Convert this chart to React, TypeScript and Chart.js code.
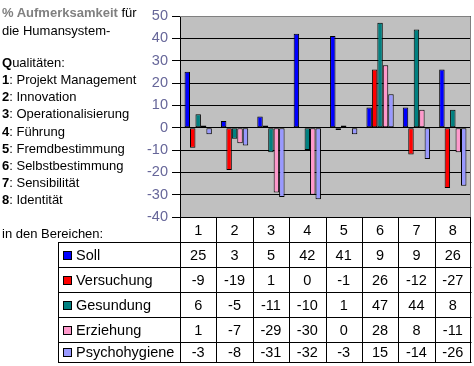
import React, { useEffect, useRef } from "react";
import { Chart, registerables } from "chart.js";

Chart.register(...registerables);

// ---- data ----
const categories = ["1", "2", "3", "4", "5", "6", "7", "8"];
const seriesNames = ["Soll", "Versuchung", "Gesundung", "Erziehung", "Psychohygiene"];
const soll = [25, 3, 5, 42, 41, 9, 9, 26];
const versuchung = [-9, -19, 1, 0, -1, 26, -12, -27];
const gesundung = [6, -5, -11, -10, 1, 47, 44, 8];
const erziehung = [1, -7, -29, -30, 0, 28, 8, -11];
const psychohygiene = [-3, -8, -31, -32, -3, 15, -14, -26];
const seriesColors = ["#0000FF", "#FF0000", "#008080", "#FF99CC", "#9999FF"];
const yMin = -40;
const yMax = 50;
const yStep = 10;

const qualities = [
  "Projekt Management",
  "Innovation",
  "Operationalisierung",
  "Führung",
  "Fremdbestimmung",
  "Selbstbestimmung",
  "Sensibilität",
  "Identität",
];

const allSeries = [soll, versuchung, gesundung, erziehung, psychohygiene];

const FONT = "'Liberation Sans', Arial, sans-serif";

// row boundaries of the data table (layout)
const tableRowLines = [242, 267, 292, 317, 342, 362];
const tableLeft = 58;

const bgPlugin = {
  id: "plotBg",
  beforeDraw(chart: any) {
    const { ctx, chartArea: a } = chart;
    ctx.save();
    ctx.fillStyle = "#FFFFFF";
    ctx.fillRect(0, 0, chart.width, chart.height);
    ctx.fillStyle = "#C0C0C0";
    ctx.fillRect(a.left, a.top, a.right - a.left, a.bottom - a.top);
    ctx.restore();
  },
};

const tablePlugin = {
  id: "dataTable",
  afterDraw(chart: any) {
    const { ctx, chartArea: a } = chart;
    const xs = chart.scales.x;
    const n = categories.length;
    const catW = (a.right - a.left) / n;
    const px = (v: number) => Math.round(v) + 0.5;
    ctx.save();
    // gray plot border top/right
    ctx.strokeStyle = "#808080";
    ctx.lineWidth = 1;
    ctx.beginPath();
    ctx.moveTo(a.left, px(a.top));
    ctx.lineTo(px(a.right - 1), px(a.top));
    ctx.lineTo(px(a.right - 1), a.bottom);
    ctx.stroke();

    ctx.strokeStyle = "#000000";
    ctx.beginPath();
    // header top line
    ctx.moveTo(a.left, px(a.bottom));
    ctx.lineTo(a.right, px(a.bottom));
    // row lines
    for (const y of tableRowLines) {
      ctx.moveTo(tableLeft, px(y));
      ctx.lineTo(a.right + 0.5, px(y));
    }
    // left table border
    ctx.moveTo(px(tableLeft), tableRowLines[0]);
    ctx.lineTo(px(tableLeft), px(tableRowLines[tableRowLines.length - 1]));
    // column lines
    for (let i = 0; i <= n; i++) {
      const x = px(a.left + i * catW - (i === n ? 1 : 0));
      ctx.moveTo(x, a.bottom);
      ctx.lineTo(x, px(tableRowLines[tableRowLines.length - 1]));
    }
    ctx.stroke();

    ctx.fillStyle = "#000000";
    ctx.font = `14.5px ${FONT}`;
    ctx.textAlign = "center";
    ctx.textBaseline = "middle";
    const headerY = (a.bottom + tableRowLines[0]) / 2 + 1;
    categories.forEach((c, i) => {
      ctx.fillText(c, xs.getPixelForValue(i), headerY);
    });
    allSeries.forEach((vals, r) => {
      const cy = (tableRowLines[r] + tableRowLines[r + 1]) / 2 + 1;
      ctx.textAlign = "center";
      ctx.fillStyle = "#000000";
      vals.forEach((v, i) => {
        ctx.fillText(String(v), xs.getPixelForValue(i), cy);
      });
      // legend key
      const sy = Math.round(cy - 5);
      ctx.fillStyle = seriesColors[r];
      ctx.fillRect(63, sy, 9, 9);
      ctx.strokeRect(63.5, sy + 0.5, 8, 8);
      ctx.fillStyle = "#000000";
      ctx.textAlign = "left";
      ctx.fillText(seriesNames[r], 76, cy);
    });
    ctx.restore();
  },
};

export default function App() {
  const canvasRef = useRef<HTMLCanvasElement | null>(null);

  useEffect(() => {
    document.body.style.margin = "0";
    const canvas = canvasRef.current;
    if (!canvas) return;
    const chart = new Chart(canvas, {
      type: "bar",
      data: {
        labels: categories,
        datasets: allSeries.map((vals, i) => ({
          label: seriesNames[i],
          data: vals,
          backgroundColor: seriesColors[i],
          borderColor: "#000000",
          borderWidth: 1,
          borderSkipped: false,
          categoryPercentage: 0.75,
          barPercentage: 1,
        })),
      },
      options: {
        responsive: false,
        animation: false,
        devicePixelRatio: 1,
        layout: { padding: { left: 0, right: 3, top: 16, bottom: 149 } },
        plugins: {
          legend: { display: false },
          tooltip: { enabled: false },
          title: { display: false },
        },
        scales: {
          x: { display: false },
          y: {
            min: yMin,
            max: yMax,
            afterFit: (s: any) => {
              s.width = 180;
            },
            ticks: {
              stepSize: yStep,
              color: "#666699",
              padding: 4,
              font: { family: FONT, size: 14.5 },
            },
            grid: {
              color: "#000000",
              lineWidth: 1,
              tickLength: 8,
              drawTicks: true,
            },
            border: { display: true, color: "#000000", width: 1 },
          },
        },
      },
      plugins: [bgPlugin, tablePlugin],
    });
    return () => chart.destroy();
  }, []);

  const textStyle: React.CSSProperties = {
    fontFamily: FONT,
    fontSize: 13,
    color: "#000",
    whiteSpace: "nowrap",
  };

  return (
    <div style={{ position: "relative", width: 474, height: 366, background: "#fff" }}>
      <canvas
        ref={canvasRef}
        width={474}
        height={366}
        style={{ position: "absolute", left: 0, top: 0, width: 474, height: 366 }}
      />
      <div style={{ ...textStyle, position: "absolute", left: 2, top: 4, lineHeight: "18.4px" }}>
        <div>
          <span style={{ color: "#808080", fontWeight: "bold" }}>% Aufmerksamkeit</span> für
        </div>
        <div>die Humansystem-</div>
      </div>
      <div style={{ ...textStyle, position: "absolute", left: 2, top: 54, lineHeight: "17.16px" }}>
        <div>
          <b>Q</b>ualitäten:
        </div>
        {qualities.map((q, i) => (
          <div key={q}>
            <b>{i + 1}</b>: {q}
          </div>
        ))}
      </div>
      <div style={{ ...textStyle, position: "absolute", left: 2, top: 225, lineHeight: "17px" }}>
        in den Bereichen:
      </div>
    </div>
  );
}
